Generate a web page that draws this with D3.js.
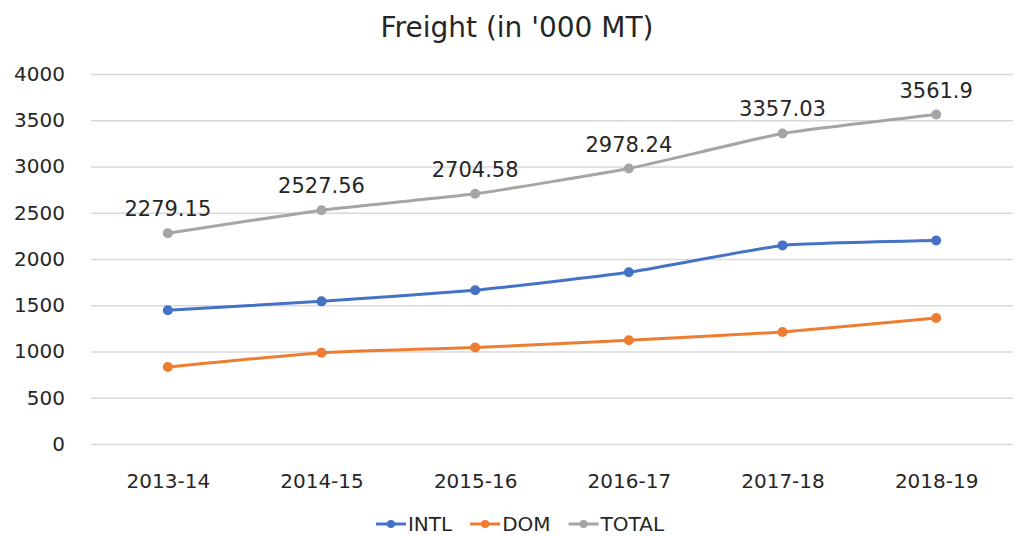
<!DOCTYPE html>
<html>
<head>
<meta charset="utf-8">
<script src="https://cdn.jsdelivr.net/npm/d3@7"></script>
<style>
  body { margin: 0; background: #fff; }
  svg { display: block; }
  text { font-family: "DejaVu Sans", sans-serif; fill: #333; }
</style>
</head>
<body>
<div id="chart"></div>
<script>
// chart data
const categories = ["2013-14", "2014-15", "2015-16", "2016-17", "2017-18", "2018-19"];
const intlValues = [1446, 1542, 1662, 1856, 2147, 2200];
const domValues = [833, 986, 1043, 1122, 1210, 1362];
const totalValues = [2279.15, 2527.56, 2704.58, 2978.24, 3357.03, 3561.9];
const yTicks = [0, 500, 1000, 1500, 2000, 2500, 3000, 3500, 4000];
const seriesNames = ["INTL", "DOM", "TOTAL"];

const width = 1022, height = 537;
const colors = { INTL: "#4472C4", DOM: "#ED7D31", TOTAL: "#A5A5A5" };

const series = [
    { name: "INTL", values: intlValues },
    { name: "DOM", values: domValues },
    { name: "TOTAL", values: totalValues, labels: true }
];

const svg = d3.select("#chart").append("svg")
    .attr("width", width)
    .attr("height", height);

const x = d3.scalePoint()
    .domain(categories)
    .range([91, 1013])
    .padding(0.5);

const y = d3.scaleLinear()
    .domain([0, 4000])
    .range([444, 74]);

// title
svg.append("text")
    .attr("x", 517)
    .attr("y", 37)
    .attr("text-anchor", "middle")
    .attr("font-size", "28px")
    .style("fill", "#262626")
    .text("Freight (in '000 MT)");

// gridlines + y labels
const yAxis = d3.axisLeft(y)
    .tickValues(yTicks)
    .tickFormat(d3.format("d"))
    .tickSize(-(1013 - 91))
    .tickPadding(26);

const gy = svg.append("g")
    .attr("transform", "translate(91,0)")
    .call(yAxis);
gy.select(".domain").remove();
gy.selectAll(".tick line").attr("stroke", "#d9d9d9").attr("stroke-width", 1.5);
gy.selectAll(".tick text")
    .attr("font-size", "20px")
    .attr("font-family", "DejaVu Sans, sans-serif")
    .style("fill", "#262626");

// x labels
const xAxis = d3.axisBottom(x).tickSize(0).tickPadding(0);
const gx = svg.append("g")
    .attr("transform", "translate(0,474)")
    .call(xAxis);
gx.select(".domain").remove();
gx.selectAll(".tick text")
    .attr("font-size", "20px")
    .attr("font-family", "DejaVu Sans, sans-serif")
    .style("fill", "#262626");

// lines (Excel-style light smoothing)
const line = d3.line()
    .x((d, i) => x(categories[i]))
    .y(d => y(d))
    .curve(d3.curveCardinal.tension(0.6));

const sg = svg.append("g").selectAll("g")
    .data(series)
    .join("g");

sg.append("path")
    .attr("fill", "none")
    .attr("stroke", d => colors[d.name])
    .attr("stroke-width", 3)
    .attr("stroke-linecap", "round")
    .attr("d", d => line(d.values));

sg.selectAll("circle")
    .data(d => d.values.map((v, i) => ({ v, i, name: d.name })))
    .join("circle")
    .attr("cx", d => x(categories[d.i]))
    .attr("cy", d => y(d.v))
    .attr("r", 5)
    .attr("fill", d => colors[d.name]);

// data labels on TOTAL
sg.filter(d => d.labels).selectAll("text.lbl")
    .data(d => d.values.map((v, i) => ({ v, i })))
    .join("text")
    .attr("class", "lbl")
    .attr("x", d => x(categories[d.i]))
    .attr("y", d => y(d.v) - 17)
    .attr("text-anchor", "middle")
    .attr("font-size", "21px")
    .style("fill", "#262626")
    .text(d => String(d.v));

// legend
const legend = svg.append("g");
let cursor = 0;
seriesNames.forEach(name => {
    const item = legend.append("g").attr("transform", `translate(${cursor},0)`);
    item.append("line")
        .attr("x1", 0).attr("x2", 30)
        .attr("y1", 0).attr("y2", 0)
        .attr("stroke", colors[name])
        .attr("stroke-width", 3);
    item.append("circle")
        .attr("cx", 15).attr("cy", 0).attr("r", 4)
        .attr("fill", colors[name]);
    const t = item.append("text")
        .attr("x", 32)
        .attr("dy", "0.35em")
        .attr("font-size", "20px")
        .style("fill", "#262626")
        .text(name);
    cursor += 32 + t.node().getComputedTextLength() + 18;
});
const legendWidth = cursor - 18;
legend.attr("transform", `translate(${520 - legendWidth / 2},524)`);
</script>
</body>
</html>
